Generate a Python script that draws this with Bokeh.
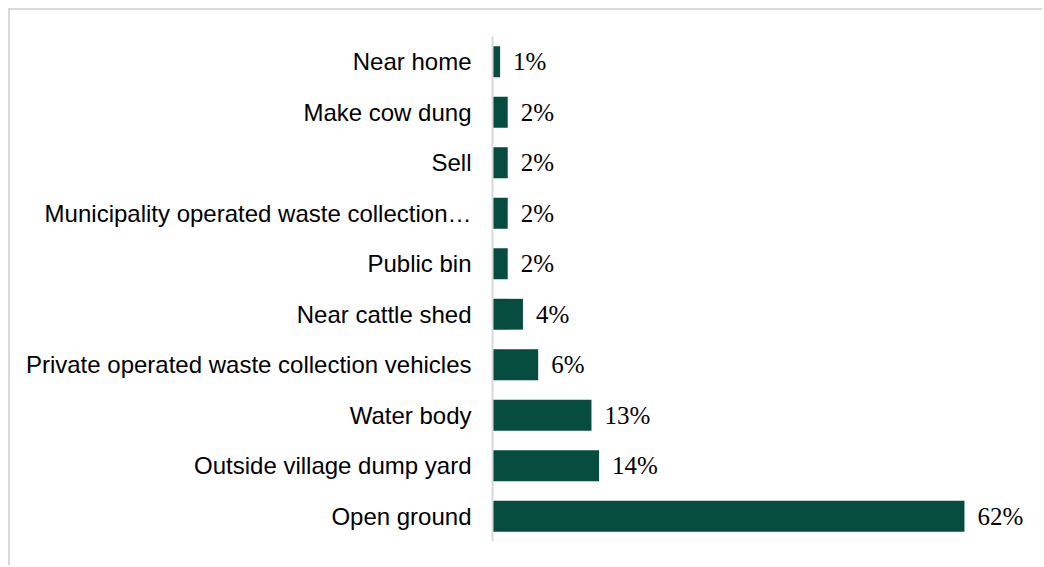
from bokeh.plotting import figure
from bokeh.models import ColumnDataSource, FactorRange, Range1d
from bokeh.core.properties import value
from bokeh.embed import file_html
from bokeh.resources import INLINE

categories = [
    "Near home",
    "Make cow dung",
    "Sell",
    "Municipality operated waste collection\u2026",
    "Public bin",
    "Near cattle shed",
    "Private operated waste collection vehicles",
    "Water body",
    "Outside village dump yard",
    "Open ground",
]
values = [1, 2, 2, 2, 2, 4, 6, 13, 14, 62]
labels = [f"{v}%" for v in values]

factors = list(reversed(categories))

src = ColumnDataSource(dict(cat=categories, val=values, lab=labels))

p = figure(
    width=1034, height=557,
    y_range=FactorRange(factors=factors, range_padding=0),
    x_range=Range1d(0, 71.2),
    output_backend="svg", toolbar_location=None,
    min_border_left=482, min_border_right=10,
    min_border_top=26, min_border_bottom=26,
    styles={"margin-left": "8px", "margin-top": "8px",
            "border-left": "2px solid #d9d9d9", "border-top": "2px solid #d9d9d9"},
)
p.hbar(y="cat", right="val", left=0, height=0.61, source=src,
       fill_color="#064D3F", line_color=None)
p.text(x="val", y="cat", text="lab", source=src, x_offset=13,
       text_baseline="middle", text_align="left",
       text_font=value("Liberation Serif"), text_font_size="25px",
       text_color="#000000")

p.xaxis.visible = False
p.xgrid.visible = False
p.ygrid.visible = False
p.outline_line_color = None
yax = p.yaxis[0]
yax.axis_line_color = "#d9d9d9"
yax.axis_line_width = 2
yax.major_tick_line_color = None
yax.minor_tick_line_color = None
yax.major_label_standoff = 15
yax.major_label_text_font = "Liberation Sans"
yax.major_label_text_font_size = "24px"
yax.major_label_text_color = "#000000"

open("out.html", "w").write(file_html(p, INLINE))
